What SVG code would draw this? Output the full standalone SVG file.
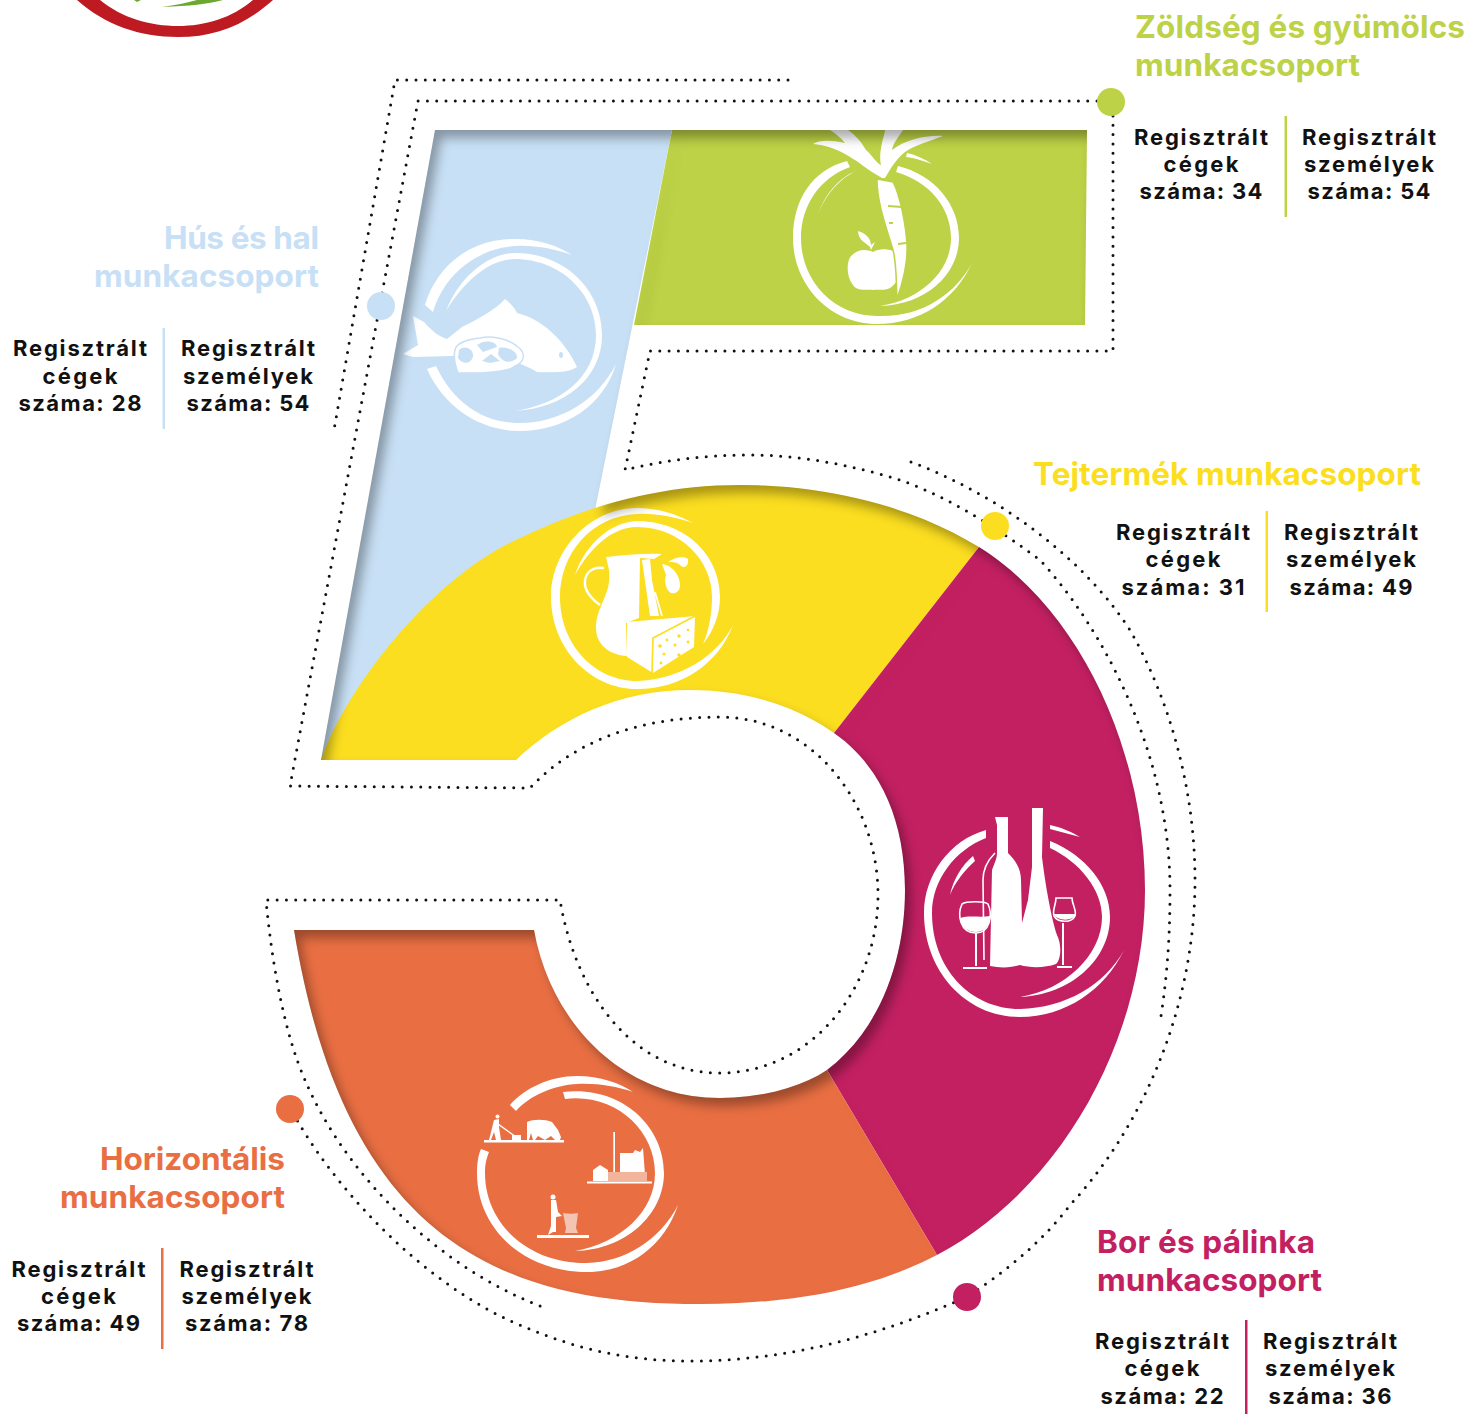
<svg xmlns="http://www.w3.org/2000/svg" width="1470" height="1414" viewBox="0 0 1470 1414">
<style>
text{font-family:Inter,"Liberation Sans",sans-serif}
.t{font-size:31.5px;font-weight:700}
.s{font-size:22px;font-weight:700;fill:#111;text-anchor:middle}
.conn{fill:none;stroke:#111;stroke-width:3;stroke-linecap:round;stroke-dasharray:0 9.3}
.w{fill:#fff}
.l{fill:none;stroke:#fff}
.gn{fill:#BDD246}.bl{fill:#C8E0F5}.ye{fill:#FBDE20}.ma{fill:#C32062}.or{fill:#E96F43}
</style>
<defs>
<filter id="inset" x="-5%" y="-5%" width="110%" height="110%" color-interpolation-filters="sRGB">
<feOffset in="SourceAlpha" dx="6" dy="8" result="o"/>
<feGaussianBlur in="o" stdDeviation="5.5" result="b"/>
<feComposite in="SourceAlpha" in2="b" operator="out" result="e"/>
<feFlood flood-color="#000" flood-opacity=".33"/>
<feComposite in2="e" operator="in" result="sh"/>
<feMerge><feMergeNode in="SourceGraphic"/><feMergeNode in="sh"/></feMerge>
</filter>
</defs>

<g id="logo">
<path d="M77,0C105,25 140,37 178,37C215,37 245,25 273,0L253,0C232,18 205,26 178,26C150,26 122,18 100,0Z" fill="#BE1A22"/>
<path d="M162,7C190,6 207,4 223,0L197,0C187,3 175,5 162,7Z" fill="#6BA82F"/>
<path d="M134,0L141,0L137,2Z" fill="#6BA82F"/>
</g>

<g id="connectors">
<path class="conn" d="M788,80L395,80L334,430"/>
<path class="conn" d="M1097,101L418,101L290,786L530,788C580,735 650,717 720,717C810,717 878,800 878,895C878,990 810,1073 720,1073C630,1073 575,990 560,900L266,900C272,965 285,1035 305,1080C345,1175 440,1270 548,1309"/>
<path class="conn" d="M1113,116L1113,351L650,351L625,470C665,460 705,455 750,455C800,455 850,465 897,479C950,497 1000,530 1040,560C1100,625 1170,750 1170,890C1170,930 1168,970 1161,1016"/>
<path class="conn" d="M911,462C1000,495 1085,560 1130,630C1170,700 1195,790 1195,880C1195,1010 1140,1130 1070,1205C1040,1245 1000,1275 967,1297C880,1335 790,1361 690,1361C630,1361 580,1350 527,1328C430,1290 340,1195 297,1120"/>
</g>

<g id="five" filter="url(#inset)">
<g id="seg-hus">
<path class="bl" d="M435,130L672,130L595,510L516,760L321,760Z"/>
<g id="icon-hus">
<path class="w" d="M425,305C438,262 475,238 515,239C540,239 558,246 572,255C555,249 535,245 515,246C480,248 445,272 433,312Z"/>
<path class="w" d="M446,311C460,275 490,253 515,253C565,253 602,290 602,335C602,378 565,408 515,411C560,404 596,378 596,335C596,293 560,259 515,259C490,259 465,280 446,311Z"/>
<path class="w" d="M427,369L436,366C452,400 480,423 520,423C560,423 598,400 616,364C604,405 565,431 520,431C478,431 443,405 427,369Z"/>
<path class="w" d="M413,316L424,322C431,330 438,336 447,339L462,327C480,318 495,310 505,299C510,303 515,308 517,313C540,318 565,340 577,367C570,372 555,373 537,372C520,362 490,350 452,356L413,357L403,354L418,345Z"/>
<path class="w" stroke="#C8E0F5" stroke-width="1.5" d="M455,350C456,343 465,340 480,338C495,335 510,340 518,347C526,353 525,362 515,366C510,372 490,372 480,373L458,373C455,365 453,358 455,350Z"/>
<path class="bl" d="M459,350C466,344 474,350 473,357C470,365 462,364 458,358Z"/>
<path class="bl" d="M499,348C508,346 518,352 517,358C511,364 502,363 498,354Z"/>
<path class="bl" d="M477,345C485,339 496,341 497,347L483,352Z"/>
<path class="bl" d="M482,361L491,354L500,361L490,363Z"/>
<ellipse class="bl" cx="561" cy="355" rx="2" ry="3"/>
</g>
</g>
<g id="seg-zoldseg">
<path class="gn" d="M672,130L1087,130L1085,325L634,325Z"/>
<g id="icon-zoldseg">
<path class="w" d="M847,161C812,170 793,200 793,238C793,285 830,324 877,324C920,324 955,300 972,263C955,295 920,318 877,316C835,316 801,282 801,238C801,205 820,178 850,167Z"/>
<path class="w" d="M898,166C935,175 959,205 959,238C959,275 925,305 880,306C920,300 951,272 951,238C951,208 930,182 896,172Z"/>
<path class="w" d="M858,170C840,178 825,195 818,215C824,196 838,178 856,171Z"/>
<path class="w" d="M907,153C916,155 925,159 932,164C923,161 915,158 906,157Z"/>
<path class="w" d="M882,178L872,172C855,160 838,146 813,144C820,140 830,140 845,143C840,137 835,133 830,130L848,130C855,135 860,140 866,150C872,155 878,165 881,165C878,150 885,135 885,130L903,130C898,138 893,143 892,150C905,140 925,135 943,136C930,141 915,145 905,152C895,160 890,170 885,178Z"/>
<path class="w" d="M873,252C880,248 893,248 899,256C904,265 900,282 890,288C884,291 878,289 873,290C868,289 862,291 856,288C846,280 846,262 851,256C858,249 866,249 873,252Z"/>
<path class="w" d="M870,247C866,243 858,240 858,231C865,233 871,238 871,245L875,242L871,250Z"/>
<path class="w" stroke="#BDD246" stroke-width="1.5" d="M877,179L893,182C900,195 906,225 907,245C908,265 902,285 897,299C896,285 897,265 893,250C888,232 877,205 877,179Z"/>
<path class="l" stroke-width="2" style="stroke:#BDD246" d="M888,206L902,207M889,223L893,223M898,244L906,243"/>
</g>
</g>
<g id="seg-tej">
<path class="ye" d="M321,760C345,690 430,578 520,538C590,505 660,485 740,485C825,485 910,505 979,547L834,733C795,705 745,690 690,690C620,690 560,718 516,760Z"/>
<g id="icon-tej">
<path class="w" d="M693,523C675,513 655,508 637,508C590,508 551,550 551,597C551,648 590,689 637,689C680,689 718,665 733,625C718,655 680,680 637,681C595,681 560,645 560,597C560,555 590,516 637,514C655,513 675,517 693,523Z"/>
<path class="w" d="M575,575C585,545 610,522 637,521C685,521 720,555 720,597C720,615 713,632 703,644C709,630 712,613 712,597C712,560 680,527 637,527C612,527 590,548 575,575Z"/>
<path class="w" d="M606,557C625,555 645,553 662,554L654,559L640,558L639,618L626,623L627,656C610,655 596,645 596,628C596,605 612,595 609,570Z"/>
<path class="w" d="M642,560L650,559L652,580L659,616L650,616Z"/>
<path class="l" stroke-width="2.5" d="M604,568C590,566 584,575 585,585C586,593 594,601 600,605"/>
<path class="l" stroke-width="1.8" d="M655,592L662,616"/>
<path class="w" d="M662,564C672,565 680,575 680,585C680,592 675,594 671,593C666,590 664,582 666,575Z"/>
<path class="w" d="M668,562C675,557 684,556 688,559C689,565 685,569 681,566C678,562 673,562 668,562Z"/>
<path class="w" d="M627,622L695,616L694,647L653,673L627,657Z"/>
<path class="l" stroke-width="1.6" style="stroke:#FBDE20" d="M695,616L653,638L652,673"/>
<g class="ye"><circle cx="660" cy="646" r="1.8"/><circle cx="667" cy="640" r="1.4"/><circle cx="679" cy="636" r="1.7"/><circle cx="688" cy="630" r="1.3"/><circle cx="675" cy="645" r="1.5"/><circle cx="688" cy="642" r="1.4"/><circle cx="664" cy="654" r="1.5"/><circle cx="679" cy="655" r="1.7"/><circle cx="661" cy="663" r="1.4"/></g>
</g>
</g>
<g id="seg-bor">
<path class="ma" d="M979,547C1080,610 1145,750 1145,890C1145,1040 1060,1190 937,1255L827,1070C880,1030 905,960 905,890C905,820 880,765 834,733Z"/>
<g id="icon-bor">
<path class="w" d="M986,830C950,840 924,875 924,913C924,970 965,1017 1020,1017C1065,1017 1105,990 1124,950C1105,985 1065,1008 1020,1009C970,1009 932,968 932,913C932,880 955,850 986,838Z"/>
<path class="w" d="M1050,841C1085,855 1110,885 1110,917C1110,960 1070,995 1020,997C1065,990 1102,955 1102,917C1102,890 1080,862 1050,848Z"/>
<path class="w" d="M973,856L975,861C965,870 955,882 950,895C953,880 962,865 973,856Z"/>
<path class="w" d="M1050,825C1060,827 1072,832 1080,837C1070,834 1060,832 1050,829Z"/>
<path class="w" d="M995,817L1008,817L1008,853C1015,860 1021,868 1021,880L1022,923L1028,900L1032,867L1032,808L1043,808L1042,857C1046,890 1052,920 1057,935C1062,945 1061,960 1056,964C1045,968 1030,968 1020,965C1010,968 1000,968 990,966L992,870C995,862 997,858 997,853L997,825Z"/>
<path class="l" stroke-width="1.6" d="M995,853C988,860 983,868 983,880L984,960"/>
<path class="l" stroke-width="2" d="M976,933L976,966M963,968L987,968M1063,923L1063,965M1057,967L1072,967"/>
<path class="l" stroke-width="1.6" d="M962,904C966,901 985,901 988,904C993,915 990,933 976,933C960,933 957,915 962,904Z"/>
<path class="w" d="M960,918C970,915 980,918 990,916C990,928 982,932 976,932C968,932 960,926 960,918Z"/>
<path class="l" stroke-width="1.6" d="M1056,898L1072,898C1072,905 1077,910 1075,916C1072,923 1058,923 1054,916C1052,910 1056,905 1056,898Z"/>
<path class="w" d="M1053,914L1076,914C1074,921 1058,922 1053,914Z"/>
</g>
</g>
<g id="seg-horizontalis">
<path class="or" d="M937,1255C870,1290 790,1304 700,1304C500,1304 345,1240 294,930L534,930C550,1020 620,1098 720,1098C760,1098 800,1088 827,1070Z"/>
<g id="icon-horizontalis">
<path class="w" d="M510,1105C525,1088 550,1076 577,1076C600,1076 620,1083 633,1092C615,1086 597,1083 577,1084C555,1085 530,1095 516,1111Z"/>
<path class="w" d="M563,1092C620,1085 664,1125 664,1173C664,1215 625,1250 575,1251C620,1243 655,1212 655,1173C655,1130 615,1093 565,1099Z"/>
<path class="w" d="M481,1149L489,1152C486,1160 485,1165 485,1173C485,1225 530,1264 587,1263C625,1262 660,1240 678,1205C665,1245 630,1272 587,1272C525,1272 477,1230 477,1173C477,1165 478,1155 481,1149Z"/>
<path class="w" d="M484,1140H564V1142.500H484Z"/>
<circle class="w" cx="497.500" cy="1116.500" r="2"/>
<path class="w" d="M494,1120L499,1119L499,1127L501,1140H496L494,1132L491,1140H489L492,1128Z"/>
<path class="l" stroke-width="1.500" d="M498,1124L516,1137"/>
<path class="w" d="M512,1135H521V1140H512Z"/>
<path class="w" d="M527,1122C533,1119 545,1119 552,1122L558,1130L561,1137L560,1140H555L551,1136L545,1140L538,1136L535,1140H533L531,1133L529,1140H527Z"/>
<path class="w" d="M613.300,1132H615V1172H613.300Z"/>
<path class="w" d="M587,1181.500H652V1183.500H587Z"/>
<path class="w" d="M593,1170L600,1165L608,1170V1181H593Z"/>
<path class="w" d="M620,1153H633L635,1150L640,1152L643,1148L645,1175H620Z"/>
<path d="M608,1172H647V1181H608Z" fill="#F3B49C"/>
<circle class="w" cx="553" cy="1197" r="2.500"/>
<path class="w" d="M551,1200H556L558,1212L562,1216L556,1217L556,1232H553L548,1235L551,1226Z"/>
<path d="M563,1213C568,1214 574,1214 578,1213L576,1228L578,1233H565L566,1228Z" fill="#F3C4B2"/>
<path class="w" d="M537,1235H589V1238H537Z"/>
</g>
</g>
</g>

<g id="group-zoldseg">
<circle class="gn" cx="1111" cy="102" r="14"/>
<text class="t gn" x="1135" y="38" textLength="330" lengthAdjust="spacing">Zöldség és gyümölcs</text>
<text class="t gn" x="1135" y="76" textLength="225" lengthAdjust="spacing">munkacsoport</text>
<path class="gn" d="M1284.500,116h2.500v101h-2.500z"/>
<text class="s"><tspan x="1201" y="145" textLength="134">Regisztrált</tspan><tspan x="1201" y="172" textLength="75">cégek</tspan><tspan x="1201" y="199" textLength="123">száma: 34</tspan></text>
<text class="s"><tspan x="1369" y="145" textLength="134">Regisztrált</tspan><tspan x="1369" y="172" textLength="130">személyek</tspan><tspan x="1369" y="199" textLength="123">száma: 54</tspan></text>
</g>

<g id="group-hus">
<circle class="bl" cx="381" cy="306" r="14"/>
<text class="t bl" x="319" y="249" text-anchor="end" textLength="155" lengthAdjust="spacing">Hús és hal</text>
<text class="t bl" x="319" y="287" text-anchor="end" textLength="225" lengthAdjust="spacing">munkacsoport</text>
<path class="bl" d="M162.500,328h2.500v101h-2.500z"/>
<text class="s"><tspan x="80" y="356" textLength="134">Regisztrált</tspan><tspan x="80" y="384" textLength="75">cégek</tspan><tspan x="80" y="411" textLength="123">száma: 28</tspan></text>
<text class="s"><tspan x="248" y="356" textLength="134">Regisztrált</tspan><tspan x="248" y="384" textLength="130">személyek</tspan><tspan x="248" y="411" textLength="123">száma: 54</tspan></text>
</g>

<g id="group-tej">
<circle class="ye" cx="995" cy="526" r="14"/>
<text class="t ye" x="1033" y="485" textLength="388" lengthAdjust="spacing">Tejtermék munkacsoport</text>
<path class="ye" d="M1265.500,511h2.500v101h-2.500z"/>
<text class="s"><tspan x="1183" y="540" textLength="134">Regisztrált</tspan><tspan x="1183" y="567" textLength="75">cégek</tspan><tspan x="1183" y="595" textLength="123">száma: 31</tspan></text>
<text class="s"><tspan x="1351" y="540" textLength="134">Regisztrált</tspan><tspan x="1351" y="567" textLength="130">személyek</tspan><tspan x="1351" y="595" textLength="123">száma: 49</tspan></text>
</g>

<g id="group-horizontalis">
<circle class="or" cx="290" cy="1109" r="14"/>
<text class="t or" x="285" y="1170" text-anchor="end" textLength="185" lengthAdjust="spacing">Horizontális</text>
<text class="t or" x="285" y="1208" text-anchor="end" textLength="225" lengthAdjust="spacing">munkacsoport</text>
<path class="or" d="M161,1248h2.500v101h-2.500z"/>
<text class="s"><tspan x="78.500" y="1277" textLength="134">Regisztrált</tspan><tspan x="78.500" y="1304" textLength="75">cégek</tspan><tspan x="78.500" y="1331" textLength="123">száma: 49</tspan></text>
<text class="s"><tspan x="246.500" y="1277" textLength="134">Regisztrált</tspan><tspan x="246.500" y="1304" textLength="130">személyek</tspan><tspan x="246.500" y="1331" textLength="123">száma: 78</tspan></text>
</g>

<g id="group-bor">
<circle class="ma" cx="967" cy="1297" r="14"/>
<text class="t ma" x="1097" y="1253" textLength="218" lengthAdjust="spacing">Bor és pálinka</text>
<text class="t ma" x="1097" y="1291" textLength="225" lengthAdjust="spacing">munkacsoport</text>
<path class="ma" d="M1245,1320h2.500v94h-2.500z"/>
<text class="s"><tspan x="1162" y="1349" textLength="134">Regisztrált</tspan><tspan x="1162" y="1376" textLength="75">cégek</tspan><tspan x="1162" y="1404" textLength="123">száma: 22</tspan></text>
<text class="s"><tspan x="1330" y="1349" textLength="134">Regisztrált</tspan><tspan x="1330" y="1376" textLength="130">személyek</tspan><tspan x="1330" y="1404" textLength="123">száma: 36</tspan></text>
</g>
</svg>
